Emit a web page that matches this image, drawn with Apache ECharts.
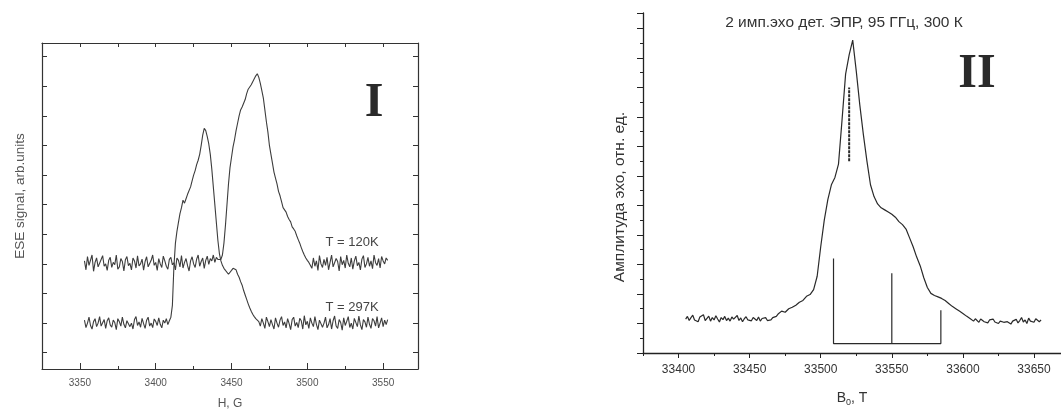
<!DOCTYPE html>
<html><head><meta charset="utf-8">
<script src="https://cdn.jsdelivr.net/npm/echarts@6/dist/echarts.min.js"></script>
<style>html,body{margin:0;padding:0;background:#fff}#c{width:1061px;height:410px}</style>
</head><body><div id="c"></div>
<script>
// ---------- Panel I data (H, G) ----------
const fieldG = [3353,3354,3355,3356,3357,3358,3359,3360,3361,3362,3363,3364,3365,3366,3367,3368,3369,3370,3371,3372,3373,3374,3375,3376,3377,3378,3379,3380,3381,3382,3383,3384,3385,3386,3387,3388,3389,3390,3391,3392,3393,3394,3395,3396,3397,3398,3399,3400,3401,3402,3403,3404,3405,3406,3407,3408,3409,3410,3411,3412,3413,3414,3415,3416,3417,3418,3419,3420,3421,3422,3423,3424,3425,3426,3427,3428,3429,3430,3431,3432,3433,3434,3435,3436,3437,3438,3439,3440,3441,3442,3443,3444,3445,3446,3447,3448,3449,3450,3451,3452,3453,3454,3455,3456,3457,3458,3459,3460,3461,3462,3463,3464,3465,3466,3467,3468,3469,3470,3471,3472,3473,3474,3475,3476,3477,3478,3479,3480,3481,3482,3483,3484,3485,3486,3487,3488,3489,3490,3491,3492,3493,3494,3495,3496,3497,3498,3499,3500,3501,3502,3503,3504,3505,3506,3507,3508,3509,3510,3511,3512,3513,3514,3515,3516,3517,3518,3519,3520,3521,3522,3523,3524,3525,3526,3527,3528,3529,3530,3531,3532,3533,3534,3535,3536,3537,3538,3539,3540,3541,3542,3543,3544,3545,3546,3547,3548,3549,3550,3551,3552,3553];
const signal120K = [
  3.1,2.8,3.25,2.95,3.0,3.3,2.75,3.05,3.2,2.9,2.85,3.15,3.28,2.92,3.0,2.78,3.12,3.22,2.88,3.05,
  2.97,3.3,2.82,2.9,3.18,3.08,2.76,3.14,3.25,2.94,3.02,2.8,3.2,3.1,2.86,3.27,2.93,3.0,3.16,2.79,
  3.08,3.24,2.9,2.84,3.12,3.3,2.95,3.05,2.78,3.18,3.0,2.88,3.26,3.1,2.92,2.82,3.15,3.22,2.97,3.04,
  2.8,3.2,3.12,2.9,3.28,2.86,3.05,3.18,2.94,2.76,3.1,3.24,3.0,2.88,3.16,3.3,2.92,3.08,3.2,2.85,
  3.12,3.26,2.98,3.18,3.1,3.3,3.05,3.22,3.15,3.2,
  3.15,3.3,3.7,4.3,5.0,5.7,6.25,6.6,6.95,7.2,7.5,7.75,8.0,8.2,8.3,8.3,8.55,8.75,8.9,8.95,
  9.05,9.15,9.25,9.35,9.42,9.3,9.1,8.85,8.6,8.2,7.8,7.45,7.0,6.7,6.4,6.1,5.9,5.7,5.45,5.3,
  5.1,4.9,4.85,4.75,4.6,4.5,4.42,4.25,4.18,4.1,3.95,3.82,3.7,3.55,3.42,3.3,3.2,3.12,3.05,2.95,
  2.85,3.2,2.92,3.1,2.78,3.28,3.0,2.88,3.15,2.95,3.22,2.8,3.05,3.3,2.9,2.84,3.18,3.08,2.76,3.25,
  2.97,3.12,2.86,3.3,3.02,2.9,3.2,2.82,3.1,3.26,2.94,3.05,2.8,3.16,3.28,2.88,3.0,3.22,2.92,3.1,
  2.84,3.3,3.04,2.95,3.18,2.86,3.25,3.1,3.0,3.2,3.12];
const signal297K = [
  1.1,0.85,1.0,1.2,0.92,0.8,1.05,1.15,0.88,1.0,1.22,0.9,0.95,1.12,0.82,1.08,1.18,0.94,0.86,1.1,
  1.02,0.78,1.15,1.05,0.9,1.2,0.96,0.84,1.08,1.14,0.88,1.0,0.8,1.12,1.22,0.92,1.04,0.86,1.16,0.98,
  0.82,1.1,1.2,0.9,1.0,0.85,1.14,1.06,0.92,1.18,0.96,0.84,1.1,1.0,1.15,0.95,1.08,1.2,
  1.6,2.9,3.7,4.1,4.4,4.7,4.9,5.15,5.05,5.2,5.35,5.4,5.6,5.8,6.0,6.15,6.35,6.5,6.7,7.0,
  7.35,7.58,7.5,7.3,7.05,6.7,6.2,5.6,5.0,4.4,3.8,3.35,3.1,2.95,2.85,2.78,2.72,2.65,2.7,2.78,
  2.85,2.88,2.8,2.65,2.55,2.4,2.28,2.1,1.95,1.8,1.65,1.52,1.4,1.3,1.22,1.15,1.1,1.05,
  0.9,1.15,1.0,0.82,1.2,1.05,0.88,1.12,0.95,0.8,1.18,1.0,0.86,1.1,1.22,0.92,1.04,0.84,1.15,0.98,
  0.78,1.12,1.2,0.9,1.02,0.85,1.16,1.08,0.8,1.25,0.94,1.06,0.82,1.18,1.0,0.88,1.22,0.96,0.78,1.1,
  1.14,0.86,1.0,1.2,0.84,0.95,1.15,0.8,1.08,1.24,0.9,0.82,1.12,1.02,0.76,1.18,0.92,1.06,1.22,0.85,
  1.0,0.8,1.16,1.1,0.88,1.24,0.94,0.78,1.12,1.04,0.86,1.2,0.96,0.82,1.15,1.08,0.9,1.22,0.84,1.0,
  1.18,0.88,1.1,0.95,1.12];
const ticksG = [3350,3400,3450,3500,3550];
const ticksSignalI = [0,1,2,3,4,5,6,7,8,9,10];

// ---------- Panel II data (B0, T) ----------
const fieldB = [33405,33406.25,33407.5,33408.75,33410,33411.25,33412.5,33413.75,33415,33416.25,33417.5,33418.75,33420,33421.25,33422.5,33423.75,33425,33426.25,33427.5,33428.75,33430,33431.25,33432.5,33433.75,33435,33436.25,33437.5,33438.75,33440,33441.25,33442.5,33443.75,33445,33446.25,33447.5,33448.75,33450,33451.25,33452.5,33453.75,33455,33456.25,33457.5,33458.75,33460,33461.25,33462.5,33463.75,33465,33466.25,33467.5,33468.75,33470,
  33472.5,33475,33477.5,33480,33482.5,33485,33487.5,33490,33492.5,33495,33497.5,33500,33502.5,33505,33507.5,33510,33512.5,33515,33517.5,33520,33522.5,33525,33527.5,33530,33532.5,33535,33537.5,33540,33542.5,33545,33547.5,33550,33552.5,33555,33557.5,33560,33562.5,33565,33567.5,33570,33572.5,33575,33577.5,33580,33582.5,33585,33587.5,33590,33592.5,33595,33597.5,33600,33602.5,33605,
  33606.25,33607.5,33608.75,33610,33611.25,33612.5,33613.75,33615,33616.25,33617.5,33618.75,33620,33621.25,33622.5,33623.75,33625,33626.25,33627.5,33628.75,33630,33631.25,33632.5,33633.75,33635,33636.25,33637.5,33638.75,33640,33641.25,33642.5,33643.75,33645,33646.25,33647.5,33648.75,33650,33651.25,33652.5,33653.75,33655];
const echoII = [
  1.15,1.24,1.1,1.2,1.28,1.12,1.18,1.06,1.22,1.16,1.3,1.1,1.14,1.25,1.08,1.2,1.12,1.26,1.15,1.05,
  1.2,1.13,1.24,1.1,1.18,1.08,1.22,1.15,1.12,1.27,1.1,1.19,1.06,1.16,1.23,1.12,1.18,1.09,1.2,1.14,
  1.1,1.22,1.08,1.17,1.13,1.2,1.1,1.16,1.12,1.2,1.15,1.24,1.32,
  1.42,1.38,1.5,1.55,1.62,1.72,1.78,1.92,1.98,2.15,2.6,3.6,4.5,5.2,5.7,5.95,6.4,7.9,9.45,10.1,
  10.6,9.55,8.4,7.4,6.5,5.7,5.3,5.05,4.92,4.85,4.78,4.7,4.6,4.45,4.35,4.2,3.9,3.6,3.25,2.95,
  2.55,2.22,2.02,1.95,1.9,1.85,1.78,1.68,1.58,1.5,1.42,1.34,1.25,1.17,
  1.14,1.08,1.16,1.1,1.04,1.15,1.12,1.06,1.1,1.02,1.12,1.08,1.15,1.05,1.1,1.0,1.08,1.13,1.04,1.1,
  1.06,1.12,0.98,1.08,1.04,1.14,1.02,1.1,1.2,1.05,1.12,1.0,1.18,1.08,1.14,1.04,1.16,1.1,1.06,1.12];
const ticksB = [33400,33450,33500,33550,33600,33650];
const stickB = [33509,33550,33584.5];
const stickTop = [3.2,2.7,1.45];
const stickBase = [0.32];
const centerB = [33520];
const centerRange = [6.5,9.0];

const chart = echarts.init(document.getElementById('c'), null, {renderer:'canvas'});
const lineC = '#3d3d3d', axC = '#333';
const font = 'Liberation Sans, Arial, sans-serif';
const plain = v => String(v);
const pairs = (xs, ys) => xs.map((x,i)=>[x, ys[i]]);

chart.setOption({
  animation:false,
  backgroundColor:'#fff',
  grid:[
    {left:42, top:43, width:376, height:326, outerBoundsMode:'none', containLabel:false},
    {left:643, top:13, width:418, height:340, outerBoundsMode:'none', containLabel:false}
  ],
  xAxis:[
    {gridIndex:0, type:'value', min:3325, max:3573, position:'bottom',
     axisLine:{onZero:false, lineStyle:{color:axC, width:1.2}}, splitLine:{show:false},
     axisTick:{inside:true, length:6, customValues:ticksG, lineStyle:{color:axC}},
     axisLabel:{customValues:ticksG, formatter:plain, fontFamily:font, fontSize:10, color:'#555', margin:9},
     name:'H, G', nameLocation:'middle', nameGap:29, nameTextStyle:{fontFamily:font, fontSize:12, color:'#555'}},
    {gridIndex:0, type:'value', min:3325, max:3573, interval:25, position:'bottom',
     axisLine:{show:false, onZero:false}, splitLine:{show:false}, axisLabel:{show:false},
     axisTick:{inside:true, length:3, lineStyle:{color:axC}}},
    {gridIndex:0, type:'value', min:3325, max:3573, interval:25, position:'top',
     axisLine:{onZero:false, lineStyle:{color:axC, width:1.2}}, splitLine:{show:false}, axisLabel:{show:false},
     axisTick:{inside:true, length:4, lineStyle:{color:axC}}},
    {gridIndex:1, type:'value', min:33375, max:33669, position:'bottom',
     axisLine:{onZero:false, lineStyle:{color:'#222', width:1.3}}, splitLine:{show:false},
     axisTick:{inside:false, length:5, customValues:ticksB, lineStyle:{color:'#222'}},
     axisLabel:{customValues:ticksB, formatter:plain, fontFamily:font, fontSize:12, color:'#333', margin:11},
     name:'{b|B}{s|0}{b|, T}', nameLocation:'middle', nameGap:37,
     nameTextStyle:{rich:{b:{fontFamily:font, fontSize:14, color:'#333'}, s:{fontFamily:font, fontSize:9, color:'#333', verticalAlign:'bottom', padding:[8,0,0,0]}}}},
    {gridIndex:1, type:'value', min:33375, max:33669, interval:25, position:'bottom',
     axisLine:{show:false, onZero:false}, splitLine:{show:false}, axisLabel:{show:false},
     axisTick:{inside:false, length:3, lineStyle:{color:'#222'}}}
  ],
  yAxis:[
    {gridIndex:0, type:'value', min:-0.55, max:10.46, position:'left',
     axisLine:{show:true, onZero:false, lineStyle:{color:axC, width:1.2}}, splitLine:{show:false}, axisLabel:{show:false},
     axisTick:{show:true, inside:true, length:5, customValues:ticksSignalI, lineStyle:{color:axC}}},
    {gridIndex:0, type:'value', min:-0.55, max:10.46, position:'right',
     axisLine:{show:true, onZero:false, lineStyle:{color:axC, width:1.2}}, splitLine:{show:false}, axisLabel:{show:false},
     axisTick:{show:true, inside:true, length:5, customValues:ticksSignalI, lineStyle:{color:axC}}},
    {gridIndex:1, type:'value', min:0, max:11.52, interval:1, position:'left',
     axisLine:{show:true, onZero:false, lineStyle:{color:'#222', width:1.3}}, splitLine:{show:false}, axisLabel:{show:false},
     axisTick:{show:true, inside:false, length:6, lineStyle:{color:'#222'}},
     minorTick:{show:true, splitNumber:2, length:3, lineStyle:{color:'#222'}}}
  ],
  series:[
    {type:'line', xAxisIndex:0, yAxisIndex:0, data:pairs(fieldG, signal120K), showSymbol:false, lineStyle:{color:lineC, width:1.1}},
    {type:'line', xAxisIndex:0, yAxisIndex:0, data:pairs(fieldG, signal297K), showSymbol:false, lineStyle:{color:lineC, width:1.1}},
    {type:'line', xAxisIndex:3, yAxisIndex:2, data:pairs(fieldB, echoII), showSymbol:false, lineStyle:{color:'#2a2a2a', width:1.2}},
    {type:'line', xAxisIndex:3, yAxisIndex:2, showSymbol:false, lineStyle:{color:'#2a2a2a', width:1.2},
     data:[[stickB[0],stickTop[0]],[stickB[0],stickBase[0]],[stickB[2],stickBase[0]],[stickB[2],stickTop[2]]]},
    {type:'line', xAxisIndex:3, yAxisIndex:2, showSymbol:false, lineStyle:{color:'#2a2a2a', width:1.2},
     data:[[stickB[1],stickTop[1]],[stickB[1],stickBase[0]]]},
    {type:'line', xAxisIndex:3, yAxisIndex:2, showSymbol:false, lineStyle:{color:'#2a2a2a', width:2, type:[3,1]},
     data:[[centerB[0],centerRange[0]],[centerB[0],centerRange[1]]]}
  ],
  graphic:[
    {type:'text', x:844, y:23, style:{text:'2 имп.эхо дет. ЭПР, 95 ГГц, 300 К', textAlign:'center', textVerticalAlign:'middle', font:'15.5px '+font, fill:'#333'}},
    {type:'text', x:20, y:196, rotation:Math.PI/2, style:{text:'ESE signal, arb.units', x:0, y:0, textAlign:'center', textVerticalAlign:'middle', font:'13.5px '+font, fill:'#555'}},
    {type:'text', x:352, y:242, style:{text:'T = 120K', textAlign:'center', textVerticalAlign:'middle', font:'13px '+font, fill:'#444'}},
    {type:'text', x:352, y:307, style:{text:'T = 297K', textAlign:'center', textVerticalAlign:'middle', font:'13px '+font, fill:'#444'}},
    {type:'text', x:374, y:104, style:{text:'I', textAlign:'center', textVerticalAlign:'middle', font:'bold 48px Liberation Serif, serif', fill:'#2a2a2a'}},
    {type:'text', x:977, y:75, style:{text:'II', textAlign:'center', textVerticalAlign:'middle', font:'bold 48px Liberation Serif, serif', fill:'#2a2a2a'}},
    {type:'text', x:620, y:197, rotation:Math.PI/2, style:{text:'Амплитуда эхо, отн. ед.', x:0, y:0, textAlign:'center', textVerticalAlign:'middle', font:'15.5px '+font, fill:'#333'}}
  ]
});
</script></body></html>
